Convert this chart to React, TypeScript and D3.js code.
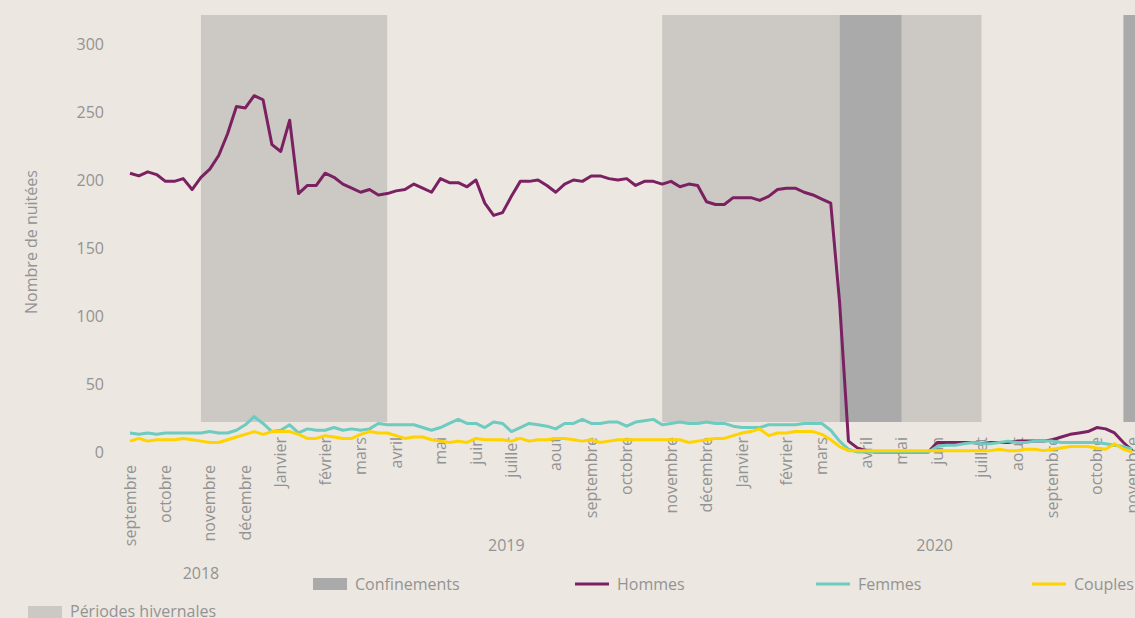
import * as d3 from 'd3';

// weekly data, one value per week (Monday) from 2018-09-03 to 2020-11-02
const firstWeek = '2018-09-03';

const hommes = [
  205, 203, 206, 204, 199, 199, 201, 193, 202, 208,
  218, 234, 254, 253, 262, 259, 226, 221, 244, 190,
  196, 196, 205, 202, 197, 194, 191, 193, 189, 190,
  192, 193, 197, 194, 191, 201, 198, 198, 195, 200,
  183, 174, 176, 188, 199, 199, 200, 196, 191, 197,
  200, 199, 203, 203, 201, 200, 201, 196, 199, 199,
  197, 199, 195, 197, 196, 184, 182, 182, 187, 187,
  187, 185, 188, 193, 194, 194, 191, 189, 186, 183,
  110, 8, 3, 1, 0, 0, 0, 0, 0, 0,
  0, 7, 7, 7, 7, 7, 6, 7, 7, 7,
  8, 8, 8, 8, 9, 11, 13, 14, 15, 18,
  17, 14, 7, 1,
];

const femmes = [
  14, 13, 14, 13, 14, 14, 14, 14, 14, 15,
  14, 14, 16, 20, 26, 21, 15, 16, 20, 14,
  17, 16, 16, 18, 16, 17, 16, 17, 21, 20,
  20, 20, 20, 18, 16, 18, 21, 24, 21, 21,
  18, 22, 21, 15, 18, 21, 20, 19, 17, 21,
  21, 24, 21, 21, 22, 22, 19, 22, 23, 24,
  20, 21, 22, 21, 21, 22, 21, 21, 19, 18,
  18, 18, 20, 20, 20, 20, 21, 21, 21, 16,
  8, 2, 0, 0, 0, 0, 0, 0, 0, 0,
  0, 4, 5, 5, 6, 7, 6, 6, 7, 8,
  7, 7, 8, 8, 8, 7, 7, 7, 7, 7,
  6, 5, 4, 2,
];

const couples = [
  8, 10, 8, 9, 9, 9, 10, 9, 8, 7,
  7, 9, 11, 13, 15, 13, 15, 15, 15, 13,
  10, 10, 12, 11, 10, 10, 13, 15, 14, 14,
  12, 10, 11, 11, 9, 8, 7, 8, 7, 10,
  9, 9, 9, 8, 10, 8, 9, 9, 10, 10,
  9, 8, 9, 7, 8, 9, 9, 9, 9, 9,
  9, 9, 9, 7, 8, 9, 10, 10, 12, 14,
  15, 17, 12, 14, 14, 15, 15, 15, 13, 9,
  4, 1, 1, 1, 1, 1, 1, 1, 1, 1,
  1, 1, 1, 1, 1, 1, 1, 1, 2, 1,
  1, 2, 2, 1, 2, 3, 4, 4, 4, 3,
  2, 6, 2, 0,
];

const winterPeriods = [
  ['2018-10-29', '2019-03-25'],
  ['2019-10-28', '2020-03-16'],
  ['2020-05-04', '2020-07-06'],
];
const lockdownPeriods = [
  ['2020-03-16', '2020-05-04'],
  ['2020-10-26', '2020-12-28'],
];

const monthTickDates = [
  '2018-09-03', '2018-10-01', '2018-11-05', '2018-12-03',
  '2018-12-31', '2019-02-04', '2019-03-04', '2019-04-01', '2019-05-06', '2019-06-03',
  '2019-07-01', '2019-08-05', '2019-09-02', '2019-09-30', '2019-11-04', '2019-12-02',
  '2019-12-30', '2020-02-03', '2020-03-02', '2020-04-06', '2020-05-04', '2020-06-01',
  '2020-07-06', '2020-08-03', '2020-08-31', '2020-10-05', '2020-11-02',
];
const monthTickLabels = [
  'septembre', 'octobre', 'novembre', 'décembre',
  'Janvier', 'février', 'mars', 'avril', 'mai', 'juin',
  'juillet', 'aout', 'septembre', 'octobre', 'novembre', 'décembre',
  'Janvier', 'février', 'mars', 'avril', 'mai', 'juin',
  'juillet', 'aout', 'septembre', 'octobre', 'novembre',
];
const yearLabels = ['2018', '2019', '2020'];
const yearLabelDates = ['2018-10-29', '2019-06-27', '2020-05-30'];
const yTicks = [0, 50, 100, 150, 200, 250, 300];

const W = 1135;
const H = 618;
const FONT = '"Open Sans", sans-serif';
const TEXT = '#939393';
const BG = '#ECE7E1';
const WINTER = '#CCC9C4';
const LOCK = '#AAAAAA';

const parse = d3.timeParse('%Y-%m-%d');

export default function App() {
  const start = parse(firstWeek);
  const weeks = hommes.map((_, i) => d3.timeMonday.offset(start, i));

  const x = d3.scaleTime().domain([weeks[0], weeks[weeks.length - 1]]).range([130, 1132.3]);
  const y = d3.scaleLinear().domain([0, 300]).range([452, 44]);

  const line = d3
    .line<number>()
    .x((_, i) => x(weeks[i]))
    .y((d) => y(d))
    .curve(d3.curveLinear);

  const series = [
    {name: 'Hommes', values: hommes, color: '#7B2162'},
    {name: 'Femmes', values: femmes, color: '#6DCBBF'},
    {name: 'Couples', values: couples, color: '#FFD300'},
  ];

  const bandTop = 15;
  const bandBottom = 422;

  const legendLines = [
    {label: 'Hommes', color: '#7B2162', x: 575},
    {label: 'Femmes', color: '#6DCBBF', x: 816},
    {label: 'Couples', color: '#FFD300', x: 1032},
  ];

  return (
    <div style={{position: 'fixed', left: 0, top: 0, width: W, height: H, background: BG}}>
      <svg width={W} height={H} style={{display: 'block', overflow: 'hidden'}} fontFamily={FONT}>
        <rect width={W} height={H} fill={BG} />

        {winterPeriods.map(([a, b], i) => (
          <rect
            key={'w' + i}
            x={x(parse(a))}
            y={bandTop}
            width={x(parse(b)) - x(parse(a))}
            height={bandBottom - bandTop}
            fill={WINTER}
          />
        ))}
        {lockdownPeriods.map(([a, b], i) => (
          <rect
            key={'l' + i}
            x={x(parse(a))}
            y={bandTop}
            width={x(parse(b)) - x(parse(a))}
            height={bandBottom - bandTop}
            fill={LOCK}
          />
        ))}

        {yTicks.map((t) => (
          <text key={t} x={104} y={y(t)} dy="0.35em" textAnchor="end" fontSize={16} fill={TEXT}>
            {t}
          </text>
        ))}
        <text
          transform={`translate(31, ${242}) rotate(-90)`}
          textAnchor="middle"
          dy="0.35em"
          fontSize={16}
          fill={TEXT}
        >
          Nombre de nuitées
        </text>

        {monthTickDates.map((d, i) => {
          const dt = parse(d);
          // the first 2018 months sit lower than the rest
          const top = i < 4 ? 465 : 437;
          return (
            <text
              key={d}
              transform={`translate(${x(dt)}, ${top}) rotate(-90)`}
              textAnchor="end"
              dy="0.35em"
              fontSize={16}
              fill={TEXT}
            >
              {monthTickLabels[i]}
            </text>
          );
        })}

        {yearLabels.map((yl, i) => (
          <text
            key={yl}
            x={x(parse(yearLabelDates[i]))}
            y={i === 0 ? 579 : 551}
            textAnchor="middle"
            fontSize={16}
            fill={TEXT}
          >
            {yl}
          </text>
        ))}

        {series.map((s) => (
          <path
            key={s.name}
            d={line(s.values) || ''}
            fill="none"
            stroke={s.color}
            strokeWidth={3}
            strokeLinejoin="round"
          />
        ))}

        {/* legend */}
        <rect x={313} y={578} width={34} height={12} fill={LOCK} />
        <text x={355} y={590} fontSize={16} fill={TEXT}>
          Confinements
        </text>
        {legendLines.map((l) => (
          <g key={l.label}>
            <line x1={l.x} x2={l.x + 34} y1={584} y2={584} stroke={l.color} strokeWidth={3} />
            <text x={l.x + 42} y={590} fontSize={16} fill={TEXT}>
              {l.label}
            </text>
          </g>
        ))}
        <rect x={28} y={606} width={34} height={12} fill={WINTER} />
        <text x={70} y={617} fontSize={16} fill={TEXT}>
          Périodes hivernales
        </text>
      </svg>
    </div>
  );
}
